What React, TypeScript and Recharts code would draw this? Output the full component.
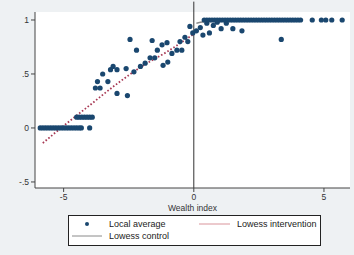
import { ComposedChart, Scatter, Line, XAxis, YAxis, CartesianGrid, ReferenceLine } from 'recharts';

// local averages (wealth index, share)
const localAverage = [
  { x: -5.9, y: 0 }, { x: -5.8, y: 0 }, { x: -5.7, y: 0 }, { x: -5.6, y: 0 }, { x: -5.5, y: 0 },
  { x: -5.4, y: 0 }, { x: -5.3, y: 0 }, { x: -5.2, y: 0 }, { x: -5.1, y: 0 }, { x: -5.0, y: 0 },
  { x: -4.9, y: 0 }, { x: -4.8, y: 0 }, { x: -4.7, y: 0 }, { x: -4.6, y: 0 }, { x: -4.5, y: 0 },
  { x: -4.4, y: 0 }, { x: -4.32, y: 0 }, { x: -4.0, y: 0 },
  { x: -4.5, y: 0.1 }, { x: -4.4, y: 0.1 }, { x: -4.3, y: 0.1 }, { x: -4.2, y: 0.1 }, { x: -4.1, y: 0.1 },
  { x: -4.0, y: 0.1 }, { x: -3.9, y: 0.1 },
  { x: -3.78, y: 0.37 }, { x: -3.6, y: 0.37 }, { x: -3.7, y: 0.43 }, { x: -3.5, y: 0.5 }, { x: -3.3, y: 0.43 },
  { x: -3.2, y: 0.54 }, { x: -3.1, y: 0.57 }, { x: -2.95, y: 0.54 }, { x: -2.95, y: 0.32 }, { x: -2.6, y: 0.55 },
  { x: -2.55, y: 0.3 }, { x: -2.45, y: 0.82 }, { x: -2.2, y: 0.72 }, { x: -2.3, y: 0.52 }, { x: -2.05, y: 0.57 },
  { x: -1.87, y: 0.6 }, { x: -1.68, y: 0.65 }, { x: -1.6, y: 0.81 }, { x: -1.5, y: 0.65 }, { x: -1.4, y: 0.72 },
  { x: -1.22, y: 0.77 }, { x: -1.03, y: 0.79 }, { x: -1.18, y: 0.58 }, { x: -1.0, y: 0.61 }, { x: -0.84, y: 0.69 },
  { x: -0.65, y: 0.72 }, { x: -0.46, y: 0.72 }, { x: -0.53, y: 0.8 }, { x: -0.34, y: 0.84 }, { x: -0.23, y: 0.8 },
  { x: -0.15, y: 0.94 }, { x: -0.04, y: 0.88 },
  { x: 0.1, y: 0.9 }, { x: 0.25, y: 0.93 }, { x: 0.35, y: 0.86 }, { x: 0.5, y: 0.97 }, { x: 0.6, y: 0.88 },
  { x: 0.75, y: 0.95 }, { x: 0.9, y: 0.98 }, { x: 1.05, y: 0.92 }, { x: 1.25, y: 0.97 }, { x: 1.5, y: 0.92 },
  { x: 1.85, y: 0.9 }, { x: 3.36, y: 0.82 },
  { x: 0.4, y: 1 }, { x: 0.5, y: 1 }, { x: 0.6, y: 1 }, { x: 0.7, y: 1 }, { x: 0.8, y: 1 }, { x: 0.9, y: 1 },
  { x: 1.0, y: 1 }, { x: 1.1, y: 1 }, { x: 1.2, y: 1 }, { x: 1.3, y: 1 }, { x: 1.4, y: 1 }, { x: 1.5, y: 1 },
  { x: 1.6, y: 1 }, { x: 1.7, y: 1 }, { x: 1.8, y: 1 }, { x: 1.9, y: 1 }, { x: 2.0, y: 1 }, { x: 2.1, y: 1 },
  { x: 2.2, y: 1 }, { x: 2.3, y: 1 }, { x: 2.4, y: 1 }, { x: 2.5, y: 1 }, { x: 2.6, y: 1 }, { x: 2.7, y: 1 },
  { x: 2.8, y: 1 }, { x: 2.9, y: 1 }, { x: 3.0, y: 1 }, { x: 3.1, y: 1 }, { x: 3.2, y: 1 }, { x: 3.3, y: 1 },
  { x: 3.4, y: 1 }, { x: 3.5, y: 1 }, { x: 3.6, y: 1 }, { x: 3.7, y: 1 }, { x: 3.8, y: 1 }, { x: 3.9, y: 1 },
  { x: 4.0, y: 1 }, { x: 4.1, y: 1 },
  { x: 4.55, y: 1 }, { x: 4.9, y: 1 }, { x: 5.07, y: 1 }, { x: 5.3, y: 1 }, { x: 5.7, y: 1 },
];

const lowessIntervention = [
  { x: -5.8, y: -0.14 }, { x: -5, y: 0.02 }, { x: -4, y: 0.21 }, { x: -3, y: 0.4 },
  { x: -2, y: 0.57 }, { x: -1, y: 0.71 }, { x: 0, y: 0.87 },
];

const lowessControl = [
  { x: 0.1, y: 0.97 }, { x: 0.6, y: 0.99 }, { x: 1.5, y: 1 }, { x: 4.2, y: 1 },
];

const xTicks = [-5, 0, 5];
const yTicks = [-0.5, 0, 0.5, 1];
const yLabel = (v: number) => (v === 1 ? '1' : v === 0 ? '0' : v === 0.5 ? '.5' : '-.5');

const NAVY = '#1a476f';
const RED = '#a83a55';
const font = '"Liberation Sans", Arial, sans-serif';

function Dot(props: any) {
  return <circle cx={props.cx} cy={props.cy} r={2.6} fill={NAVY} />;
}

function LegendBox() {
  const t = { fontSize: 9, fill: '#222', fontFamily: font };
  return (
    <svg width={254} height={32} style={{ position: 'absolute', left: 68, top: 215 }}>
      <rect x={0.5} y={0.5} width={252} height={30} fill="#fff" stroke="#222" strokeWidth={1} />
      <circle cx={19} cy={9} r={2} fill={NAVY} />
      <text x={41} y={12} {...t}>Local average</text>
      <line x1={131} x2={162} y1={9} y2={9} stroke="#d9949b" strokeWidth={1} />
      <text x={169} y={12} {...t}>Lowess intervention</text>
      <line x1={4} x2={34} y1={21} y2={21} stroke="#8a8a8a" strokeWidth={1} />
      <text x={41} y={24} {...t}>Lowess control</text>
    </svg>
  );
}

export default function App() {
  return (
    <div style={{ position: 'absolute', left: 0, top: 0, width: 354, height: 255, background: '#eef1f3' }}>
      <ComposedChart
        width={354}
        height={255}
        margin={{ top: 12, right: 4, left: 0, bottom: 47 }}
        style={{ fontFamily: font }}
      >
        <CartesianGrid fill="#fff" horizontal={false} vertical={false} />
        <XAxis
          type="number"
          dataKey="x"
          domain={[-6.1, 6.0]}
          ticks={xTicks}
          allowDataOverflow
          stroke="#444"
          tickSize={4}
          tick={{ fontSize: 8.5, fill: '#333' }}
          height={20}
          label={{ value: 'Wealth index', position: 'insideBottom', offset: -3, fontSize: 8.5, fill: '#333' }}
        />
        <YAxis
          type="number"
          dataKey="y"
          domain={[-0.556, 1.074]}
          ticks={yTicks}
          allowDataOverflow
          tickFormatter={yLabel}
          stroke="#444"
          tickSize={4}
          width={35}
          tick={{ fontSize: 8.5, fill: '#333' }}
        />
        <ReferenceLine
          segment={[{ x: 0, y: -0.556 }, { x: 0, y: 1.17 }]}
          ifOverflow="visible"
          stroke="#333"
          strokeWidth={1}
        />
        <Line
          data={lowessControl}
          dataKey="y"
          type="monotone"
          stroke="#8a8a8a"
          strokeWidth={1.5}
          dot={false}
          isAnimationActive={false}
        />
        <Scatter data={localAverage} dataKey="y" shape={Dot} isAnimationActive={false} />
        <Line
          data={lowessIntervention}
          dataKey="y"
          type="monotone"
          stroke={RED}
          strokeWidth={1.8}
          strokeDasharray="1.6 2"
          dot={false}
          isAnimationActive={false}
        />
      </ComposedChart>
      <LegendBox />
    </div>
  );
}
